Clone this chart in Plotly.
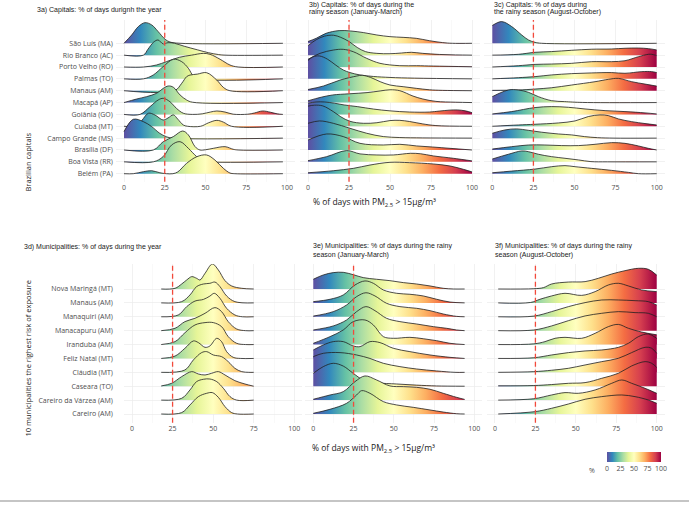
import plotly.graph_objects as go

W, H = 689, 512

# ---------------- categories / ticks ----------------
capitals = ["São Luís (MA)", "Rio Branco (AC)", "Porto Velho (RO)", "Palmas (TO)",
            "Manaus (AM)", "Macapá (AP)", "Goiânia (GO)", "Cuiabá (MT)",
            "Campo Grande (MS)", "Brasília (DF)", "Boa Vista (RR)", "Belém (PA)"]
municipalities = ["Nova Maringá (MT)", "Manaus (AM)", "Manaquiri (AM)", "Manacapuru (AM)",
                  "Iranduba (AM)", "Feliz Natal (MT)", "Cláudia (MT)", "Caseara (TO)",
                  "Careiro da Várzea (AM)", "Careiro (AM)"]
x_ticks = [0, 25, 50, 75, 100]
x_minor = [12.5, 37.5, 62.5, 87.5]
threshold = 25
scale_ticks = [0, 25, 50, 75, 100]

# ---------------- ridge data (x in %, height in row units) ----------------
# 3a capitals, whole year
A_X = [
    [0, 4.7, 8.8, 12.9, 17, 21, 25.2, 28.2, 34.4, 97.5],
    [0, 11.9, 14.7, 18.2, 20.9, 24, 27, 31, 37, 45, 52, 58, 62, 97.5],
    [0, 12, 20, 26, 34, 41.5, 48.7, 52.8, 59, 65, 70, 97.5],
    [0, 11.9, 18, 24, 30.3, 35.4, 39.5, 42.5, 45.6, 97.5],
    [0, 31, 35.4, 38.4, 40.5, 45, 50.7, 56.9, 61, 65, 97.5],
    [0, 7.8, 13.9, 20, 24.1, 27.2, 30.3, 34.4, 38.4, 42, 97.5],
    [0, 9.8, 16, 21, 24.1, 28.2, 32.3, 36.4, 42, 48, 53, 57, 62, 67, 76, 80, 85, 90, 94, 97.5],
    [0, 8, 11, 15, 19, 24, 27, 30.3, 33, 36.4, 39, 47, 52, 57, 61, 66, 97.5],
    [0, 5.7, 11.9, 17, 22, 26, 30, 97.5],
    [0, 18, 24.1, 30.3, 36, 39.5, 43.6, 46.6, 50, 54.8, 62, 67, 70, 97.5],
    [0, 18, 24, 29.2, 34.4, 39.5, 44.6, 48.7, 51, 97.5],
    [0, 5.7, 11.9, 17, 22, 26, 30, 33, 38.4, 44.6, 50.7, 55.8, 61, 65, 68, 97.5],
]
A_H = [
    [0, 0.7, 1.41, 1.74, 1.55, 0.98, 0.34, 0.11, 0, 0],
    [0, 0, 0.5, 1.1, 1.28, 0.95, 1.05, 1.0, 0.75, 0.45, 0.2, 0.05, 0, 0],
    [0, 0, 0.17, 0.45, 0.82, 1.0, 1.15, 1.07, 0.65, 0.17, 0, 0],
    [0, 0, 0.33, 1.03, 1.65, 1.45, 0.89, 0.24, 0, 0],
    [0, 0, 0.62, 1.18, 1.32, 1.4, 1.52, 0.9, 0.28, 0, 0],
    [0, 0.3, 0.5, 0.78, 1.2, 1.4, 1.29, 0.64, 0.22, 0.03, 0],
    [0, 0, 0.66, 1.22, 1.36, 1.07, 0.5, 0.1, 0, 0.05, 0.2, 0.29, 0.2, 0.02, 0.02, 0.12, 0.29, 0.18, 0.05, 0],
    [0, 0.05, 0.5, 1.1, 0.95, 0.53, 0.7, 0.96, 0.6, 0.11, 0, 0, 0.3, 0.5, 0.35, 0, 0],
    [0.55, 1.59, 1.39, 0.97, 0.4, 0.12, 0, 0],
    [0, 0, 0.7, 1.13, 1.6, 1.27, 0.28, 0, 0.02, 0.14, 0.28, 0.06, 0, 0],
    [0, 0, 0.44, 1.42, 1.7, 1.14, 0.44, 0.07, 0, 0],
    [0, 0, 0.17, 0.25, 0.08, 0, 0, 0.15, 0.87, 1.43, 1.58, 1.15, 0.45, 0.06, 0, 0],
]
# 3b capitals, January-March
B_X = [
    [0, 5, 11, 19, 26, 34, 42, 50, 58, 66, 74, 82, 88, 100],
    [0, 5, 10, 15.5, 20, 25, 30, 35, 42, 50, 57, 63, 70, 80, 90, 100],
    [0, 7.3, 15.4, 21.5, 27.6, 35.8, 43.9, 56, 66.3, 76.4, 100],
    [0, 3, 7, 12, 17, 21.5, 25.6, 31.7, 40, 50, 65, 100],
    [0, 9.5, 19.6, 29.8, 33, 38, 44, 50, 58, 66, 74, 82, 100],
    [0, 8, 15, 25, 36, 44, 50, 56, 64, 70, 78, 90, 100],
    [0, 5, 10, 16, 22, 30, 40, 50, 62, 74, 80, 86, 91, 96, 100],
    [0, 4, 9, 15.4, 20, 25.6, 33.8, 42, 50, 56, 62, 70, 78, 100],
    [0, 7, 15.4, 25.6, 35.8, 45.9, 56, 70, 100],
    [0, 11.4, 21.5, 31.7, 45.9, 56, 66.3, 76, 86.6, 100],
    [0, 11.4, 23.6, 31.7, 42, 52, 62.6, 68.7, 76.4, 88.6, 100],
    [0, 15.4, 27.6, 37.8, 50, 62, 76.4, 86.6, 94.7, 100],
]
B_H = [
    [0.15, 0.42, 0.84, 1.07, 1.04, 0.9, 0.7, 0.56, 0.5, 0.42, 0.22, 0.06, 0, 0],
    [0.8, 1.3, 1.6, 1.68, 1.5, 1.15, 0.65, 0.3, 0.15, 0.12, 0.18, 0.24, 0.15, 0.06, 0.02, 0],
    [0.65, 1.15, 1.43, 1.49, 1.29, 0.73, 0.31, 0.11, 0.11, 0.08, 0.02],
    [1.55, 1.85, 1.93, 1.65, 1.15, 0.75, 0.53, 0.33, 0.2, 0.12, 0.06, 0],
    [0.1, 0.4, 0.9, 1.24, 1.3, 1.13, 0.76, 0.48, 0.34, 0.2, 0.08, 0.03, 0],
    [0.15, 0.45, 0.64, 0.74, 0.84, 0.98, 1.08, 1.0, 0.55, 0.3, 0.1, 0.03, 0],
    [0.95, 1.05, 1.05, 0.95, 0.8, 0.66, 0.45, 0.3, 0.2, 0.2, 0.28, 0.36, 0.38, 0.3, 0.15],
    [1.7, 1.78, 1.72, 1.24, 0.8, 0.42, 0.25, 0.3, 0.48, 0.5, 0.4, 0.2, 0.06, 0],
    [1.25, 1.45, 1.25, 0.83, 0.41, 0.13, 0.05, 0.02, 0],
    [0.84, 1.35, 1.13, 0.56, 0.42, 0.48, 0.34, 0.25, 0.14, 0],
    [0.1, 0.44, 0.95, 0.67, 0.58, 0.58, 0.72, 0.68, 0.5, 0.3, 0.08],
    [0.08, 0.25, 0.45, 0.73, 0.96, 0.93, 0.82, 0.65, 0.37, 0.15],
]
# 3c capitals, August-October
C_X = [
    [0, 5.7, 11.8, 17.9, 22, 26, 30, 100],
    [0, 15.8, 26, 36, 48.3, 60.5, 72.6, 80.7, 88.9, 94.9, 100],
    [0, 15.8, 26, 36, 48.3, 60.5, 72.6, 80.7, 88.9, 94.9, 97, 100],
    [0, 15.8, 26, 36, 48.3, 60.5, 72.6, 80.7, 91, 97, 100],
    [0, 15.8, 26, 36, 48.3, 62.5, 70.6, 76.7, 84.8, 92.9, 100],
    [0, 9.8, 15.8, 21.9, 28, 36, 44, 55, 100],
    [0, 11.8, 26, 36, 46.3, 56.4, 68.6, 80.7, 92.9, 100],
    [0, 15.8, 26, 40.2, 50.3, 58.4, 65.5, 70.6, 76.7, 84.8, 92.9, 100],
    [0, 7.7, 14.8, 21.9, 30, 40.2, 48.3, 56, 64, 74, 100],
    [0, 11.8, 21.9, 32, 42.2, 52.4, 62.5, 72.6, 80.7, 88.9, 94.9, 100],
    [0, 9.8, 17.9, 21.9, 28, 36, 44.2, 52.4, 60, 70, 100],
    [0, 11.8, 26, 36, 44.2, 50.3, 60.5, 72.6, 82.8, 89, 100],
]
C_H = [
    [1.5, 1.83, 1.41, 0.7, 0.28, 0.08, 0, 0],
    [0, 0.07, 0.24, 0.3, 0.41, 0.5, 0.52, 0.58, 0.6, 0.55, 0.44],
    [0, 0.11, 0.22, 0.25, 0.31, 0.45, 0.45, 0.53, 0.87, 1.07, 1.07, 0.96],
    [0, 0.1, 0.19, 0.33, 0.44, 0.5, 0.53, 0.47, 0.61, 0.61, 0.53],
    [0.03, 0.06, 0.14, 0.25, 0.48, 0.76, 0.96, 1.04, 0.76, 0.56, 0.39],
    [0.5, 1.06, 1.06, 0.87, 0.5, 0.16, 0.08, 0.01, 0],
    [0.04, 0.24, 0.58, 0.66, 0.6, 0.46, 0.32, 0.24, 0.13, 0.04],
    [0, 0.11, 0.17, 0.28, 0.45, 0.82, 0.96, 0.9, 0.62, 0.39, 0.23, 0.11],
    [0.41, 0.69, 0.78, 0.66, 0.5, 0.35, 0.27, 0.13, 0.04, 0, 0],
    [0.08, 0.28, 0.42, 0.42, 0.37, 0.37, 0.48, 0.62, 0.56, 0.34, 0.14, 0],
    [0.24, 0.64, 0.92, 0.86, 0.64, 0.44, 0.3, 0.16, 0.02, 0, 0],
    [0.08, 0.22, 0.39, 0.59, 0.68, 0.59, 0.45, 0.28, 0.11, 0, 0],
]
# 3d municipalities, whole year
D_X = [
    [18, 26.5, 30.6, 33.7, 36.8, 39.8, 41.9, 45, 49.5, 53.2, 57.3, 61.4, 67.6, 75],
    [18, 30.6, 35.7, 39.8, 44, 48, 51.1, 54.2, 58.3, 63.4, 75],
    [18, 28.5, 33.7, 38.8, 44, 48, 50.7, 54.2, 58.3, 63.4, 68, 75],
    [18, 26.5, 32.6, 38.8, 45, 51.1, 55.2, 59.3, 64.5, 70, 75],
    [18, 26.5, 32.6, 38.8, 45, 50.1, 55.2, 59.3, 64.5, 70, 75],
    [18, 26.5, 32.6, 37.8, 40.9, 45, 48, 52.2, 55.2, 58.3, 62.4, 67, 75],
    [18, 32.6, 37.8, 42.9, 46, 50.1, 55.2, 59.3, 63.4, 67.6, 72, 75],
    [18, 24.4, 30.6, 36.8, 40.9, 45, 49, 53.2, 57.3, 63.4, 69.6, 75],
    [18, 30.6, 35.7, 39.8, 44, 48, 52.2, 56.3, 60.4, 64.5, 75],
    [18, 30.6, 35.7, 40.9, 46, 49.5, 53.2, 57.3, 61.4, 65, 75],
]
D_H = [
    [0, 0.05, 0.36, 0.65, 0.89, 0.77, 0.65, 1.13, 1.8, 1.37, 0.6, 0.22, 0.05, 0],
    [0, 0.09, 0.57, 1.17, 1.36, 1.41, 1.5, 1.17, 0.5, 0.09, 0],
    [0, 0.13, 0.73, 1.13, 1.25, 1.49, 1.69, 1.33, 0.61, 0.13, 0, 0],
    [0, 0.17, 0.65, 0.89, 1.25, 1.66, 1.37, 0.65, 0.12, 0, 0],
    [0, 0.21, 0.85, 1.41, 1.58, 1.58, 1.29, 0.57, 0.09, 0, 0],
    [0, 0.17, 0.73, 1.26, 1.14, 0.8, 0.9, 1.45, 1.21, 0.49, 0.08, 0, 0],
    [0, 0.17, 0.89, 1.42, 1.49, 1.25, 1.13, 0.77, 0.29, 0.05, 0, 0],
    [0.02, 0.21, 0.69, 1.05, 0.88, 0.81, 0.93, 1.05, 0.81, 0.4, 0.16, 0],
    [0, 0.13, 0.73, 1.33, 1.5, 1.52, 1.33, 0.85, 0.25, 0, 0],
    [0, 0.1, 0.65, 1.25, 1.49, 1.54, 1.2, 0.53, 0.1, 0, 0],
]
# 3e municipalities, January-March
E_X = [
    [0, 6.2, 12.4, 18.6, 24.8, 31, 39.3, 47.6, 55.9, 64.2, 72.5, 80.7, 87, 94],
    [0, 10.4, 18.6, 25.9, 32.1, 37.3, 43.5, 51.8, 60, 68.3, 76.6, 84.9, 94],
    [0, 12.4, 20.7, 26.9, 32.7, 38.3, 45.5, 53.8, 64.2, 72.5, 80.7, 89, 94],
    [0, 12.4, 20.7, 26.9, 32.7, 38.3, 45.5, 53.8, 64.2, 74.5, 82.8, 89, 94],
    [0, 10.4, 18.6, 24.8, 32.1, 37.3, 43.5, 49.7, 60, 68.3, 76.6, 84.9, 94],
    [0, 6.2, 12.4, 18.6, 24.8, 29, 35.2, 41.4, 49.7, 60, 72.5, 84.9, 94],
    [0, 6.2, 16.6, 26.9, 35.2, 43.5, 53.8, 64.2, 76.6, 88, 94],
    [0, 6.2, 12.4, 18.6, 24.8, 31, 39.3, 51.8, 64, 76.6, 94],
    [0, 10.4, 18.6, 25.9, 32.1, 39.3, 47.6, 55.9, 64.2, 72.5, 80.7, 89, 94],
    [0, 10.4, 20.7, 26.9, 30, 35.2, 43.5, 51.8, 62.1, 72.5, 80.7, 89, 94],
]
E_H = [
    [0.7, 1.01, 1.18, 1.2, 1.03, 0.82, 0.7, 0.6, 0.46, 0.36, 0.22, 0.05, 0, 0],
    [0.09, 0.26, 0.57, 1.29, 1.58, 1.41, 0.93, 0.69, 0.62, 0.5, 0.26, 0.06, 0],
    [0.05, 0.37, 0.85, 1.45, 1.73, 1.5, 0.97, 0.73, 0.61, 0.44, 0.2, 0.03, 0],
    [0.05, 0.34, 0.77, 1.37, 1.73, 1.44, 0.89, 0.65, 0.48, 0.29, 0.17, 0.05, 0],
    [0.09, 0.57, 1.05, 1.65, 1.77, 1.41, 0.57, 0.45, 0.52, 0.42, 0.28, 0.09, 0],
    [0.61, 0.97, 1.21, 1.21, 0.9, 0.85, 1.21, 1.14, 0.73, 0.49, 0.25, 0.08, 0],
    [1.13, 1.37, 1.42, 1.25, 1.0, 0.65, 0.41, 0.24, 0.1, 0, 0],
    [0.93, 1.41, 1.65, 1.45, 0.93, 0.45, 0.25, 0.16, 0.08, 0.02, 0],
    [0.06, 0.37, 0.61, 1.33, 1.74, 1.45, 1.02, 0.97, 0.92, 0.78, 0.49, 0.2, 0.05],
    [0.05, 0.34, 0.77, 1.37, 1.68, 1.49, 0.89, 0.65, 0.48, 0.29, 0.14, 0.02, 0],
]
# 3f municipalities, August-October
F_X = [
    [2, 24, 30, 35, 45.4, 55.7, 63.9, 72.2, 80.4, 88.7, 94.8, 100],
    [2, 22, 27.8, 35, 43.3, 53.6, 61.9, 70.1, 76.3, 82.5, 90.7, 100],
    [2, 24, 35, 45.4, 55.7, 66, 76.3, 86.6, 94.8, 100],
    [2, 24, 35, 45.4, 55.7, 66, 76.3, 86.6, 94.8, 100],
    [2, 24, 30.9, 37.1, 43.3, 53.6, 61.9, 70.1, 76.3, 82.5, 90.7, 100],
    [2, 24, 35, 45.4, 55.7, 66, 76.3, 82.5, 88.7, 94.8, 100],
    [2, 24, 35, 45.4, 55.7, 66, 76.3, 84.5, 92.8, 96.9, 100],
    [2, 24, 35, 45.4, 55.7, 66, 76.3, 84.5, 92.8, 96.9, 100],
    [2, 24, 35, 43.3, 51.5, 61.9, 72.2, 78.4, 84.5, 92.8, 100],
    [2, 24.7, 35, 45.4, 55.7, 66, 78.4, 86.6, 94.8, 100],
]
F_H = [
    [0, 0.02, 0.1, 0.36, 0.5, 0.53, 0.77, 1.08, 1.32, 1.49, 1.42, 1.0],
    [0, 0.03, 0.26, 0.5, 0.69, 0.54, 0.81, 1.29, 1.41, 1.22, 0.93, 0.81],
    [0, 0.05, 0.37, 0.73, 1.02, 1.21, 1.21, 1.16, 1.09, 0.85],
    [0, 0.05, 0.34, 0.72, 1.06, 1.25, 1.37, 1.3, 1.25, 1.0],
    [0, 0.05, 0.21, 0.45, 0.52, 0.45, 0.81, 1.29, 1.45, 1.17, 0.9, 0.7],
    [0, 0.05, 0.25, 0.42, 0.54, 0.61, 0.8, 1.09, 1.57, 1.76, 1.45],
    [0, 0.05, 0.15, 0.29, 0.53, 0.77, 1.01, 1.42, 1.8, 1.73, 1.37],
    [0.03, 0.05, 0.12, 0.21, 0.26, 0.57, 0.93, 1.46, 1.77, 1.65, 1.36],
    [0, 0.1, 0.37, 0.54, 0.49, 0.73, 1.21, 1.45, 1.21, 0.85, 0.49],
    [0, 0.17, 0.41, 0.72, 1.06, 1.25, 1.37, 1.25, 1.01, 0.77],
]

# Spectral (reversed) fill scale
spectral_r = ["#5E4FA2", "#3288BD", "#66C2A5", "#ABDDA4", "#E6F598", "#FFFFBF",
              "#FEE08B", "#FDAE61", "#F46D43", "#D53E4F", "#9E0142"]
colorscale = [[i / (len(spectral_r) - 1), c] for i, c in enumerate(spectral_r)]

# ---------------- layout of panels (pixels) ----------------
panels = [
    dict(labels=capitals, X=A_X, Hh=A_H, px=(115.85, 295.1), py=(20, 181.7), yr=[0.325, 13.965], show=True, so=2),
    dict(labels=capitals, X=B_X, Hh=B_H, px=(299.8, 480.2), py=(20, 181.7), yr=[0.325, 13.965], show=False, so=2),
    dict(labels=capitals, X=C_X, Hh=C_H, px=(484.1, 664.9), py=(20, 181.7), yr=[0.325, 13.965], show=False, so=2),
    dict(labels=municipalities, X=D_X, Hh=D_H, px=(123.9, 302.4), py=(264, 422.7), yr=[0.374, 11.8], show=True, so=10),
    dict(labels=municipalities, X=E_X, Hh=E_H, px=(305.25, 482.35), py=(264, 422.7), yr=[0.374, 11.8], show=False, so=2),
    dict(labels=municipalities, X=F_X, Hh=F_H, px=(486.9, 664.8), py=(264, 422.7), yr=[0.374, 11.8], show=False, so=2),
]

GRID = "#EBEBEB"
TXT = "#4D4D4D"
fig = go.Figure()
shapes = []
for k, p in enumerate(panels, start=1):
    xa = "x" if k == 1 else f"x{k}"
    ya = "y" if k == 1 else f"y{k}"
    n = len(p["labels"])
    for i in range(n):
        row = n - i
        xs, hs = p["X"][i], p["Hh"][i]
        fig.add_trace(go.Scatter(x=[xs[0], xs[-1]], y=[row, row], mode="lines",
                                 line=dict(width=0, color="rgba(0,0,0,0)"),
                                 xaxis=xa, yaxis=ya, showlegend=False, hoverinfo="skip"))
        fig.add_trace(go.Scatter(x=xs, y=[row + h for h in hs], mode="lines",
                                 line=dict(color="#1f1f1f", width=0.8, shape="spline", smoothing=1),
                                 fill="tonexty",
                                 fillgradient=dict(type="horizontal", colorscale=colorscale, start=0, stop=100),
                                 xaxis=xa, yaxis=ya, showlegend=False, hoverinfo="skip"))
    x0, x1 = p["px"]
    yt, yb = p["py"]
    fig.layout["xaxis" if k == 1 else f"xaxis{k}"] = dict(
        domain=[x0 / W, x1 / W], range=[-5, 105], anchor=ya,
        tickvals=x_ticks, ticks="", showgrid=True, gridcolor=GRID, gridwidth=0.7,
        minor=dict(tickvals=x_minor, showgrid=True, gridcolor="#F3F3F3", gridwidth=0.5),
        zeroline=False, showline=False, fixedrange=True,
        tickfont=dict(family="Open Sans", size=7, color=TXT))
    fig.layout["yaxis" if k == 1 else f"yaxis{k}"] = dict(
        domain=[1 - yb / H, 1 - yt / H], range=p["yr"], anchor=xa,
        tickvals=list(range(1, n + 1)), ticktext=list(reversed(p["labels"])),
        showticklabels=p["show"], ticks="", ticklabelstandoff=p["so"], fixedrange=True,
        showgrid=True, gridcolor=GRID, gridwidth=0.7, zeroline=False, showline=False,
        tickfont=dict(family="Open Sans", size=7, color=TXT))
    shapes.append(dict(type="line", xref=xa, yref=f"{ya} domain", x0=threshold, x1=threshold,
                       y0=0, y1=1, line=dict(color="#F2493B", width=1.3, dash="5px,3px"), layer="above"))

# colour scale legend
fig.add_trace(go.Scatter(x=[-50, -50], y=[-50, -50], mode="markers", xaxis="x6", yaxis="y6",
                         showlegend=False, hoverinfo="skip",
                         marker=dict(size=1, color=[scale_ticks[0], scale_ticks[-1]], colorscale=colorscale,
                                     cmin=0, cmax=100, showscale=True,
                                     colorbar=dict(orientation="h", x=634 / W, xanchor="center",
                                                   y=1 - 452 / H, yanchor="top", len=54, lenmode="pixels",
                                                   thickness=10, thicknessmode="pixels", outlinewidth=0,
                                                   tickvals=scale_ticks, ticks="", xpad=0, ypad=0,
                                                   tickfont=dict(family="Open Sans", size=7, color=TXT)))))

shapes.append(dict(type="line", xref="paper", yref="paper", x0=0, x1=1, y0=1 - 501 / H, y1=1 - 501 / H,
                   line=dict(color="#8C8C8C", width=1.2)))

TF = dict(family="Liberation Sans, Arial", size=7, color="#1a1a1a")
def ann(text, x, y, font, xanchor="left", angle=0):
    return dict(text=text, x=x / W, y=1 - y / H, xref="paper", yref="paper", xanchor=xanchor,
                yanchor="middle", showarrow=False, font=font, textangle=angle)

xt = "% of days with PM<sub>2.5</sub> &gt; 15µg/m³"
XF = dict(family="Open Sans", size=8.5, color="#1a1a1a")
YF = dict(family="Open Sans", size=7.5, color="#1a1a1a")
annotations = [
    ann("3a) Capitals: % of days durignh the year", 35, 10, TF),
    ann("3b) Capitals: % of days during the", 306.7, 4.5, TF),
    ann("rainy season (January-March)", 306.7, 12, TF),
    ann("3c) Capitals: % of days during", 491.7, 4.5, TF),
    ann("the rainy season (August-October)", 491.7, 12, TF),
    ann("3d) Municipalities: % of days during the year", 21.7, 246.5, TF),
    ann("3e) Municipalities: % of days during the rainy", 310.7, 246, TF),
    ann("season (January-March)", 310.7, 254.5, TF),
    ann("3f) Municipalities: % of days during the rainy", 493.3, 246, TF),
    ann("season (August-October)", 493.3, 254.5, TF),
    ann(xt, 374, 202.5, XF, xanchor="center"),
    ann(xt, 373, 448.3, XF, xanchor="center"),
    ann("Brazilian capitals", 27, 162.5, YF, xanchor="center", angle=-90),
    ann("10 municipalities the righest risk of exposure", 27, 358.5, YF, xanchor="center", angle=-90),
    ann("%", 592, 470, dict(family="Open Sans", size=7, color=TXT), xanchor="center"),
]

fig.update_layout(template="none", width=W, height=H, margin=dict(l=0, r=0, t=0, b=0),
                  paper_bgcolor="white", plot_bgcolor="white",
                  font=dict(family="Open Sans", color=TXT),
                  shapes=shapes, annotations=annotations, showlegend=False, hovermode=False)
fig.write_html("out.html", config={"displayModeBar": False, "staticPlot": True},
               post_script="document.body.style.margin='0px';")
